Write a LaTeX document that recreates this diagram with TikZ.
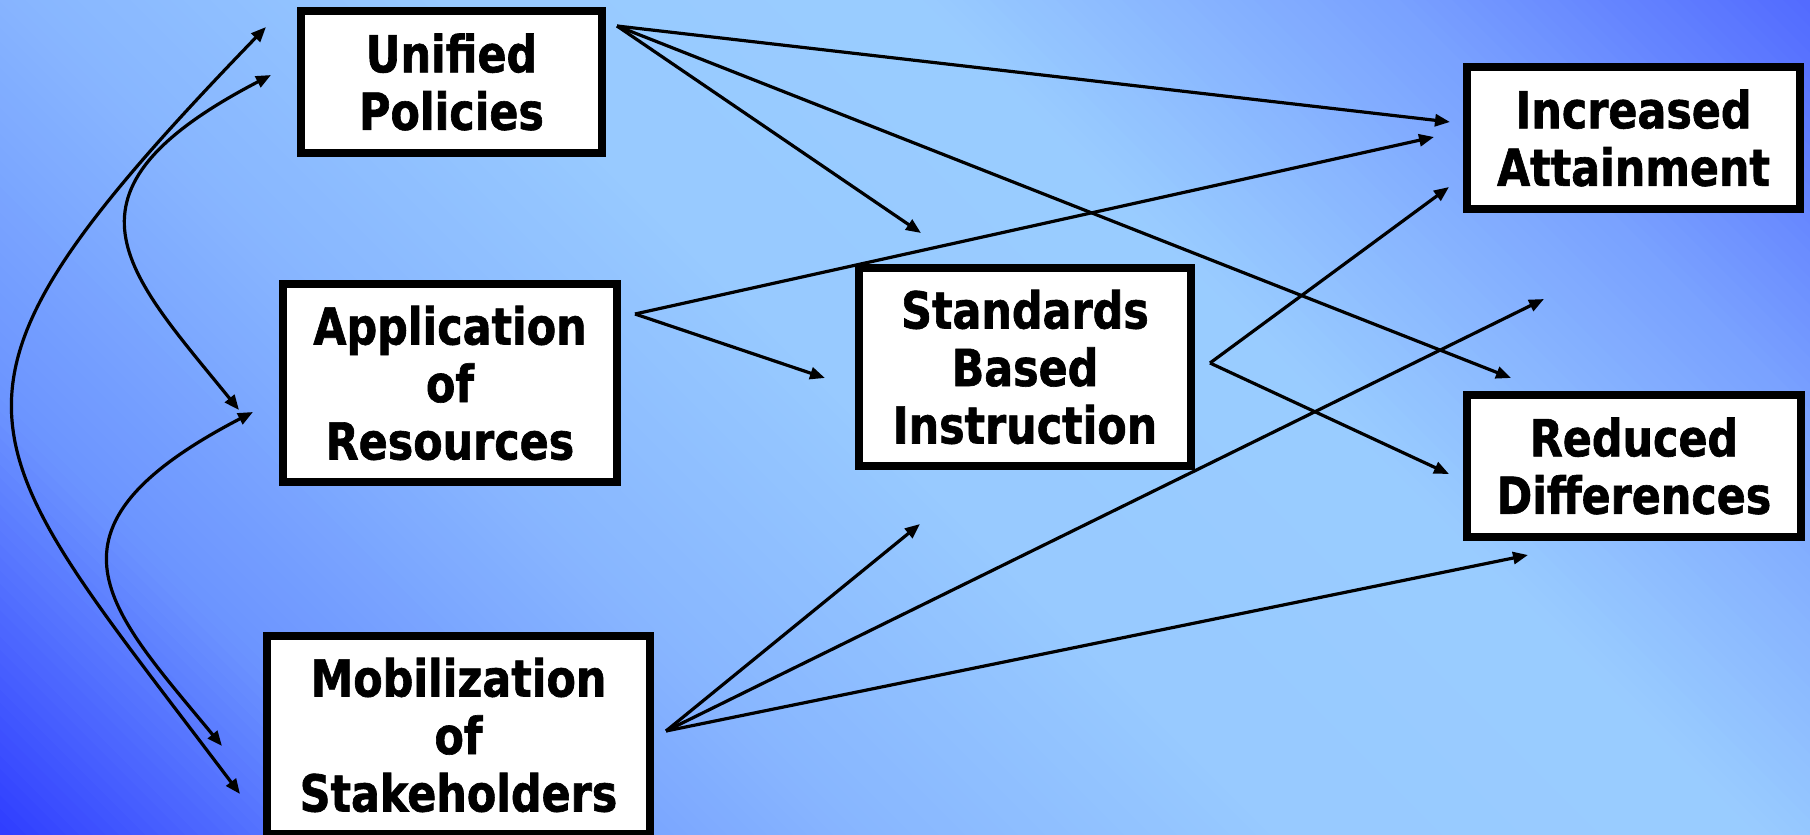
\documentclass[tikz,border=0pt]{standalone}
\usepackage{fontspec}
\newfontfamily\boxfont{DejaVu Sans}[FakeStretch=0.84, BoldFeatures={FakeBold=1.2}]
\usetikzlibrary{arrows.meta}
\begin{document}
\begin{tikzpicture}[x=1pt,y=-1pt,
  box/.style={draw=black, line width=8pt, fill=white, inner sep=0pt, align=center,
    font=\boxfont\bfseries\fontsize{51}{57.5}\selectfont},
  link/.style={line width=3.2pt, -{Triangle[length=15pt,width=12pt]}},
  twoway/.style={line width=3.2pt, {Triangle[length=15pt,width=12pt]}-{Triangle[length=15pt,width=12pt]}}]
\useasboundingbox (0,0) rectangle (1810,835);
% background gradient
\begin{scope}
\clip (0,0) rectangle (1810,835);
\foreach \k in {0,...,200}{
  \pgfmathsetmacro\t{\k/200}
  \pgfmathsetmacro\c{-835+2645*\t}
  \pgfmathtruncatemacro\R{\t<0.16 ? 48+60*\t/0.16 : (\t<0.32 ? 108+28*(\t-0.16)/0.16 : (\t<0.48 ? 136+16*(\t-0.32)/0.16 : (\t<0.66 ? 152+2*(\t-0.48)/0.18 : (\t<0.84 ? 154-32*(\t-0.66)/0.18 : 122-40*(\t-0.84)/0.16))))}
  \pgfmathtruncatemacro\G{\t<0.16 ? 62+86*\t/0.16 : (\t<0.32 ? 148+34*(\t-0.16)/0.16 : (\t<0.48 ? 182+20*(\t-0.32)/0.16 : (\t<0.66 ? 202+3*(\t-0.48)/0.18 : (\t<0.84 ? 205-43*(\t-0.66)/0.18 : 162-56*(\t-0.84)/0.16))))}
  \definecolor{bgc}{RGB}{\R,\G,255}
  \fill[bgc] (\c-20,-20) -- (\c+860,860) -- (4000,860) -- (4000,-20) -- cycle;
}
\end{scope}
% boxes
\node[box, minimum width=301pt, minimum height=142pt] (up) at (451.5,82) {Unified\\Policies};
\node[box, minimum width=334pt, minimum height=198pt] (ar) at (450,383) {Application\\of\\Resources};
\node[box, minimum width=383pt, minimum height=198pt] (ms) at (458.5,735) {Mobilization\\of\\Stakeholders};
\node[box, minimum width=332pt, minimum height=198pt] (sb) at (1025,367) {Standards\\Based\\Instruction};
\node[box, minimum width=333pt, minimum height=142pt] (ia) at (1633.5,138) {Increased\\Attainment};
\node[box, minimum width=334pt, minimum height=142pt] (rd) at (1634,466) {Reduced\\Differences};
% connector ends
\coordinate (upOut) at (617,26);
\coordinate (arOut) at (635,314);
\coordinate (sbOut) at (1210,363);
\coordinate (msOut) at (666,731);
\coordinate (iaIn1) at (1450,122);
\coordinate (iaIn2) at (1434,137);
\coordinate (iaIn3) at (1449,187);
\coordinate (sbIn1) at (921,233);
\coordinate (sbIn2) at (825,378);
\coordinate (sbIn3) at (920,524);
\coordinate (rdIn1) at (1511,378);
\coordinate (rdIn2) at (1449,474);
\coordinate (rdIn3) at (1528,555);
\coordinate (gapIn) at (1544,299);
\coordinate (oT) at (266,27);
\coordinate (oB) at (240,794);
\coordinate (i1T) at (271,75);
\coordinate (i1B) at (239,410);
\coordinate (i2T) at (253,412);
\coordinate (i2B) at (222,746);
% straight connectors
\draw[link] (upOut) -- (iaIn1);
\draw[link] (upOut) -- (sbIn1);
\draw[link] (upOut) -- (rdIn1);
\draw[link] (arOut) -- (iaIn2);
\draw[link] (arOut) -- (sbIn2);
\draw[link] (sbOut) -- (iaIn3);
\draw[link] (sbOut) -- (rdIn2);
\draw[link] (msOut) -- (sbIn3);
\draw[link] (msOut) -- (gapIn);
\draw[link] (msOut) -- (rdIn3);
% curved two-way connectors
\draw[twoway] (oB) .. controls (-34,430) and (-97.5,403) .. (oT);
\draw[twoway] (i1T) .. controls (44,193) and (127,272) .. (i1B);
\draw[twoway] (i2T) .. controls (26,530) and (109,609) .. (i2B);
\end{tikzpicture}
\end{document}
